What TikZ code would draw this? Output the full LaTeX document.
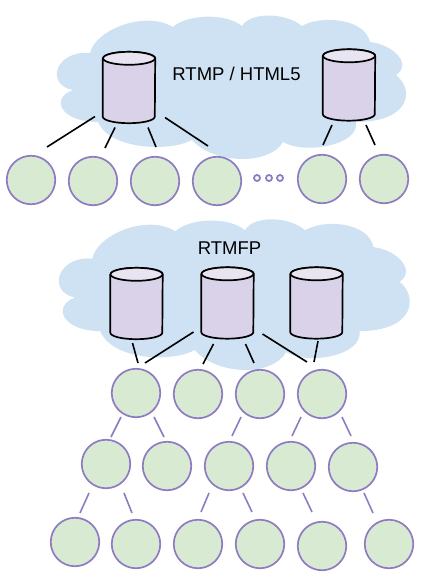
\documentclass[tikz,border=0pt]{standalone}
\usepackage{fontspec}
\setmainfont{Liberation Sans}
\definecolor{cloudblue}{HTML}{CFE2F3}
\definecolor{peergreen}{HTML}{D9EAD3}
\definecolor{peerline}{HTML}{8E7CC3}
\definecolor{serverbody}{HTML}{D9D2E9}
\definecolor{servertop}{HTML}{E8E4F2}
\tikzset{
  peer/.style={circle,draw=peerline,fill=peergreen,line width=1.7pt,minimum width=48.5pt,inner sep=0pt},
  dot/.style={circle,draw=peerline,line width=1.8pt,minimum width=6pt,inner sep=0pt},
  serverbox/.style={rectangle,minimum width=52pt,minimum height=58pt,inner sep=0pt},
  servershell/.style={draw=black,fill=serverbody,line width=1.7pt,line join=round},
  serverlid/.style={draw=black,fill=servertop,line width=1.7pt},
  slink/.style={line width=1.6pt},
  plink/.style={line width=1.6pt,draw=peerline},
  label/.style={font=\fontsize{18.5}{20}\selectfont,text=black,inner sep=0pt},
  cloudfill/.pic={
    \fill[cloudblue] (90,53) .. controls (95,30) and (145,10) .. (173,27)
      .. controls (185,15) and (225,12) .. (242,26)
      .. controls (250,12) and (285,12) .. (302,26)
      .. controls (320,15) and (365,18) .. (370,42)
      .. controls (395,45) and (412,65) .. (396,75)
      .. controls (415,90) and (410,122) .. (356,122)
      .. controls (360,145) and (305,155) .. (283,142)
      .. controls (270,165) and (215,165) .. (192,140)
      .. controls (170,152) and (110,150) .. (98,122)
      .. controls (60,122) and (50,98) .. (73,90)
      .. controls (45,85) and (55,50) .. (90,53) -- cycle;
  }
}
\begin{document}
\begin{tikzpicture}[x=1pt,y=-1pt]
\useasboundingbox (0,0) rectangle (420,580);
% clouds
\pic at (0,0) {cloudfill};
\pic[yscale=1.05,xscale=1.005] at (1.7,203) {cloudfill};
% servers
\foreach \name/\x/\y in {s1/129/87.5,s2/349/85,r1/136.5/303.5,r2/227.5/303,r3/316.5/303}{
  \node[serverbox] (\name) at (\x,\y) {};
  \path[servershell] (\name.north west) -- (\name.south west)
    arc[start angle=180,end angle=360,x radius=26pt,y radius=6.5pt] -- (\name.north east)
    arc[start angle=0,end angle=180,x radius=26pt,y radius=6.5pt] -- cycle;
  \path[serverlid] (\name.north) ellipse[x radius=26pt,y radius=6.5pt];
}
\node[label] (rtmp) at (236.5,74) {RTMP / HTML5};
\node[label] (rtmfp) at (229.5,248) {RTMFP};
% first tree
\foreach \name/\x/\y in {n1/31/180,n2/93/181,n3/155/181,n4/217/181,n5/322/179,n6/384/179,
  t1/136/393,t2/198/394,t3/260/394,t4/322/394,
  u1/106/464,u2/167/466,u3/229/466,u4/291/466,u5/353/467,
  v1/75/542,v2/136/544,v3/198/544,v4/260/544,v5/322/546,v6/389/544}
  \node[peer] (\name) at (\x,\y) {};
\foreach \name/\x in {d1/257,d2/269,d3/280}
  \node[dot] (\name) at (\x,178) {};
% server links
\foreach \a/\ax/\ay/\b/\bx/\by in {s1/-34/29/n1/16/-33,s1/-14/40/n2/12/-33,s1/19/40/n3/1/-34,s1/36/30/n4/-9/-35,
  s2/-17/40/n5/1/-34,s2/17/40/n6/-9/-34,
  r1/-4/39.5/t1/2/-30,r2/-34/29/t1/9/-30,r2/-14/41/t2/5/-30,r2/18/41/t3/-6/-31,r2/35/31/t4/-15/-32,r3/1.5/38/t4/-8/-32}
  \draw[slink] ([shift={(\ax,\ay)}]\a.center) -- ([shift={(\bx,\by)}]\b.center);
% peer links
\foreach \a/\ax/\ay/\b/\bx/\by in {t1/-15/24/u1/5/-27,t1/18/24/u2/-3/-29,t3/-19/23/u3/3/-30,t4/-21/23/u4/1/-30,t4/20/23/u5/-2/-31,
  u1/-17/29/v1/5/-29,u1/18/29/v2/-4/-31,u3/-20/27/v3/3/-32,u3/14/27/v4/-8/-32,u4/12/27/v5/-10/-34,u5/11/26/v6/-16/-31}
  \draw[plink] ([shift={(\ax,\ay)}]\a.center) -- ([shift={(\bx,\by)}]\b.center);
\end{tikzpicture}
\end{document}
